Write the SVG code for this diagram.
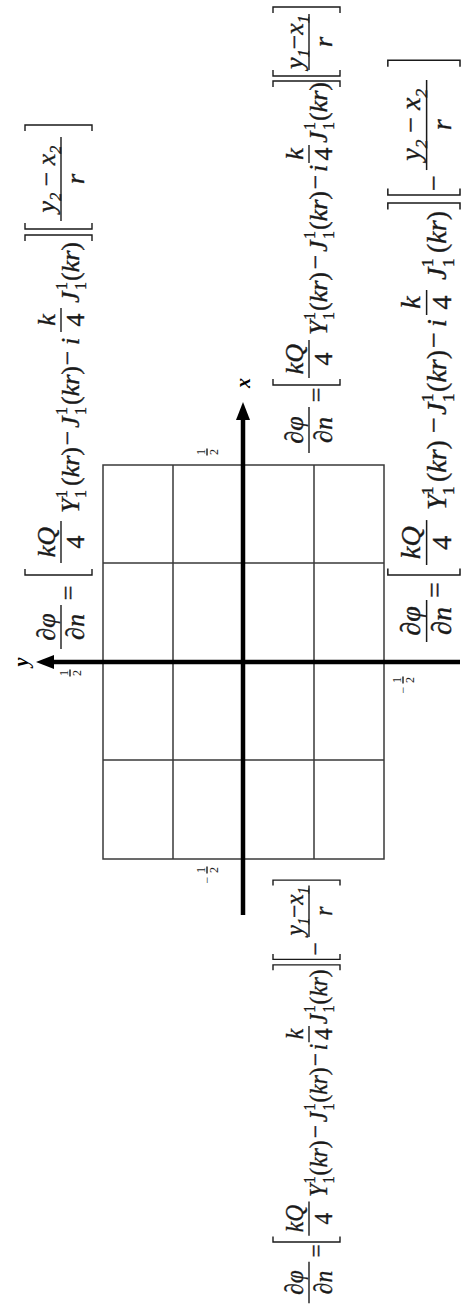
<svg xmlns="http://www.w3.org/2000/svg" width="467" height="1310" viewBox="0 0 467 1310">
<style>
.t{font-family:"Liberation Serif","Times New Roman",serif;font-size:26px;fill:#1a1a1a;stroke:#1a1a1a;stroke-width:0.35}
.i{font-style:italic}
.s{font-size:16px}
.k{stroke:#1a1a1a;stroke-width:1.4;fill:none}
.g{stroke:#3a3a3a;stroke-width:1.5;fill:none}
.ax{stroke:#000;stroke-width:4.5;fill:none}
.tk{font-family:"Liberation Serif","Times New Roman",serif;font-size:12px;fill:#222}
.lab{font-family:"Liberation Serif","Times New Roman",serif;font-size:20px;font-weight:bold;font-style:italic;fill:#000}
</style>
<rect width="467" height="1310" fill="#fff"/>
<g id="grid">
<rect class="g" x="103" y="465" width="281" height="394"/>
<path class="g" d="M173,465V859M314,465V859M103,563H384M103,760H384"/>
</g>
<g id="axes">
<path class="ax" d="M460,662H52"/>
<polygon points="36,662 54,655 54,669" fill="#000"/>
<path class="ax" d="M243,915V418"/>
<polygon points="243,402 236,420 250,420" fill="#000"/>
</g>
<g id="axis-labels">
<text class="lab" transform="translate(250,383) rotate(-90)" text-anchor="middle">x</text>
<text class="lab" transform="translate(28,662) rotate(-90)" text-anchor="middle">y</text>
</g>
<g id="tick-top" transform="translate(207,452) rotate(-90)">
<text class="tk" x="0" y="-2.5" text-anchor="middle">1</text><path class="k" d="M-3.5,0H3.5"/><text class="tk" x="0" y="10.5" text-anchor="middle">2</text>
</g>
<g id="tick-bottom" transform="translate(207,870) rotate(-90)">
<text class="tk" x="-10" y="3.5" text-anchor="middle">−</text>
<text class="tk" x="0" y="-2.5" text-anchor="middle">1</text><path class="k" d="M-3.5,0H3.5"/><text class="tk" x="0" y="10.5" text-anchor="middle">2</text>
</g>
<g id="tick-left" transform="translate(70,673) rotate(-90)">
<text class="tk" x="0" y="-2.5" text-anchor="middle">1</text><path class="k" d="M-3.5,0H3.5"/><text class="tk" x="0" y="10.5" text-anchor="middle">2</text>
</g>
<g id="tick-right" transform="translate(403,680) rotate(-90)">
<text class="tk" x="-10" y="3.5" text-anchor="middle">−</text>
<text class="tk" x="0" y="-2.5" text-anchor="middle">1</text><path class="k" d="M-3.5,0H3.5"/><text class="tk" x="0" y="10.5" text-anchor="middle">2</text>
</g>

<g id="eqA" transform="translate(79,655) rotate(-90)">
<text class="t" x="28" y="-24" text-anchor="middle">∂<tspan class="i">φ</tspan></text>
<path class="k" d="M6,-18H50"/>
<text class="t" x="28" y="5" text-anchor="middle">∂<tspan class="i">n</tspan></text>
<text class="t" x="62" y="-2" text-anchor="middle">=</text>
<path class="k" d="M86,-54H80V13H86"/>
<text class="t i" x="113" y="-24" text-anchor="middle">kQ</text>
<path class="k" d="M92,-18H134"/>
<text class="t" x="113" y="5" text-anchor="middle">4</text>
<text class="t i" x="142" y="0">Y</text>
<text class="t s" x="157" y="-12">1</text>
<text class="t s" x="157" y="7">1</text>
<text class="t" x="169" y="0">(<tspan class="i">kr</tspan>)</text>
<text class="t" x="217" y="-3" text-anchor="middle">−</text>
<text class="t i" x="227" y="0">J</text>
<text class="t s" x="240" y="-12">1</text>
<text class="t s" x="240" y="7">1</text>
<text class="t" x="250" y="0">(<tspan class="i">kr</tspan>)</text>
<text class="t" x="297" y="-3" text-anchor="middle">−</text>
<text class="t i" x="310" y="0">i</text>
<text class="t i" x="335" y="-24" text-anchor="middle">k</text>
<path class="k" d="M323,-18H347"/>
<text class="t" x="335" y="5" text-anchor="middle">4</text>
<text class="t i" x="352" y="0">J</text>
<text class="t s" x="365" y="-12">1</text>
<text class="t s" x="365" y="7">1</text>
<text class="t" x="374" y="0">(<tspan class="i">kr</tspan>)</text>
<path class="k" d="M414,-54H420V13H414M432,-54H426V13H432"/>
<text class="t i" x="476" y="-24" text-anchor="middle">y<tspan class="s" dy="6">2</tspan><tspan font-style="normal" dy="-6"> − </tspan>x<tspan class="s" dy="6">2</tspan></text>
<path class="k" d="M434,-18H518"/>
<text class="t i" x="476" y="5" text-anchor="middle">r</text>
<path class="k" d="M524,-54H530V13H524"/>
</g>

<g id="eqB" transform="translate(327,455) rotate(-90)">
<text class="t" x="25" y="-24" text-anchor="middle">∂<tspan class="i">φ</tspan></text>
<path class="k" d="M2,-18H48"/>
<text class="t" x="25" y="5" text-anchor="middle">∂<tspan class="i">n</tspan></text>
<text class="t" x="60" y="-2" text-anchor="middle">=</text>
<path class="k" d="M76,-54H70V13H76"/>
<text class="t i" x="96" y="-24" text-anchor="middle">kQ</text>
<path class="k" d="M77,-18H115"/>
<text class="t" x="96" y="5" text-anchor="middle">4</text>
<text class="t i" x="120" y="0">Y</text>
<text class="t s" x="135" y="-12">1</text>
<text class="t s" x="135" y="7">1</text>
<text class="t" x="144" y="0">(<tspan class="i">kr</tspan>)</text>
<text class="t" x="193" y="-3" text-anchor="middle">−</text>
<text class="t i" x="203" y="0">J</text>
<text class="t s" x="216" y="-12">1</text>
<text class="t s" x="216" y="7">1</text>
<text class="t" x="225" y="0">(<tspan class="i">kr</tspan>)</text>
<text class="t" x="273" y="-3" text-anchor="middle">−</text>
<text class="t i" x="283" y="0">i</text>
<text class="t i" x="301" y="-24" text-anchor="middle">k</text>
<path class="k" d="M292,-18H310"/>
<text class="t" x="301" y="5" text-anchor="middle">4</text>
<text class="t i" x="312" y="0">J</text>
<text class="t s" x="325" y="-12">1</text>
<text class="t s" x="325" y="7">1</text>
<text class="t" x="334" y="0">(<tspan class="i">kr</tspan>)</text>
<path class="k" d="M368,-54H374V13H368M385,-54H379V13H385"/>
<text class="t i" x="413" y="-24" text-anchor="middle">y<tspan class="s" dy="6">1</tspan><tspan font-style="normal" dy="-6">−</tspan>x<tspan class="s" dy="6">1</tspan></text>
<path class="k" d="M385,-18H441"/>
<text class="t i" x="413" y="5" text-anchor="middle">r</text>
<path class="k" d="M442,-54H448V13H442"/>
</g>

<g id="eqC" transform="translate(446,645) rotate(-90) scale(1.077)">
<text class="t" x="22.3" y="-24" text-anchor="middle">∂<tspan class="i">φ</tspan></text>
<path class="k" d="M2.8,-18H41.8"/>
<text class="t" x="22.3" y="5" text-anchor="middle">∂<tspan class="i">n</tspan></text>
<text class="t" x="51" y="-2" text-anchor="middle">=</text>
<path class="k" d="M71,-54H65V13H71"/>
<text class="t i" x="95" y="-24" text-anchor="middle">kQ</text>
<path class="k" d="M74.3,-18H116"/>
<text class="t" x="95" y="5" text-anchor="middle">4</text>
<text class="t i" x="125.3" y="0">Y</text>
<text class="t s" x="139.3" y="-12">1</text>
<text class="t s" x="139.3" y="7">1</text>
<text class="t" x="151.3" y="0">(<tspan class="i">kr</tspan>)</text>
<text class="t" x="204.3" y="-3" text-anchor="middle">−</text>
<text class="t i" x="213.6" y="0">J</text>
<text class="t s" x="225.6" y="-12">1</text>
<text class="t s" x="225.6" y="7">1</text>
<text class="t" x="235" y="0">(<tspan class="i">kr</tspan>)</text>
<text class="t" x="283.2" y="-3" text-anchor="middle">−</text>
<text class="t i" x="295.3" y="0">i</text>
<text class="t i" x="318" y="-24" text-anchor="middle">k</text>
<path class="k" d="M306.4,-18H329.6"/>
<text class="t" x="318" y="5" text-anchor="middle">4</text>
<text class="t i" x="339" y="0">J</text>
<text class="t s" x="351" y="-12">1</text>
<text class="t s" x="351" y="7">1</text>
<text class="t" x="364" y="0">(<tspan class="i">kr</tspan>)</text>
<path class="k" d="M404.4,-54H410.4V13H404.4M423.8,-54H417.8V13H423.8"/>
<text class="t" x="429" y="-3" text-anchor="middle">−</text>
<text class="t i" x="483" y="-24" text-anchor="middle">y<tspan class="s" dy="6">2</tspan><tspan font-style="normal" dy="-6"> − </tspan>x<tspan class="s" dy="6">2</tspan></text>
<path class="k" d="M441,-18H524.6"/>
<text class="t i" x="483" y="5" text-anchor="middle">r</text>
<path class="k" d="M537,-54H543V13H537"/>
</g>

<g id="eqD" transform="translate(327,1305) rotate(-90) scale(0.9,1)">
<text class="t" x="25" y="-24" text-anchor="middle">∂<tspan class="i">φ</tspan></text>
<path class="k" d="M2,-18H48"/>
<text class="t" x="25" y="5" text-anchor="middle">∂<tspan class="i">n</tspan></text>
<text class="t" x="60" y="-2" text-anchor="middle">=</text>
<path class="k" d="M76,-54H70V13H76"/>
<text class="t i" x="96" y="-24" text-anchor="middle">kQ</text>
<path class="k" d="M77,-18H115"/>
<text class="t" x="96" y="5" text-anchor="middle">4</text>
<text class="t i" x="120" y="0">Y</text>
<text class="t s" x="135" y="-12">1</text>
<text class="t s" x="135" y="7">1</text>
<text class="t" x="144" y="0">(<tspan class="i">kr</tspan>)</text>
<text class="t" x="193" y="-3" text-anchor="middle">−</text>
<text class="t i" x="203" y="0">J</text>
<text class="t s" x="216" y="-12">1</text>
<text class="t s" x="216" y="7">1</text>
<text class="t" x="225" y="0">(<tspan class="i">kr</tspan>)</text>
<text class="t" x="273" y="-3" text-anchor="middle">−</text>
<text class="t i" x="283" y="0">i</text>
<text class="t i" x="301" y="-24" text-anchor="middle">k</text>
<path class="k" d="M292,-18H310"/>
<text class="t" x="301" y="5" text-anchor="middle">4</text>
<text class="t i" x="312" y="0">J</text>
<text class="t s" x="325" y="-12">1</text>
<text class="t s" x="325" y="7">1</text>
<text class="t" x="334" y="0">(<tspan class="i">kr</tspan>)</text>
<path class="k" d="M372,-54H378V13H372M390,-54H384V13H390"/>
<text class="t" x="396" y="-3" text-anchor="middle">−</text>
<text class="t i" x="437.5" y="-24" text-anchor="middle">y<tspan class="s" dy="6">1</tspan><tspan font-style="normal" dy="-6">−</tspan>x<tspan class="s" dy="6">1</tspan></text>
<path class="k" d="M409,-18H466"/>
<text class="t i" x="437.5" y="5" text-anchor="middle">r</text>
<path class="k" d="M466,-54H472V13H466"/>
</g>
</svg>
